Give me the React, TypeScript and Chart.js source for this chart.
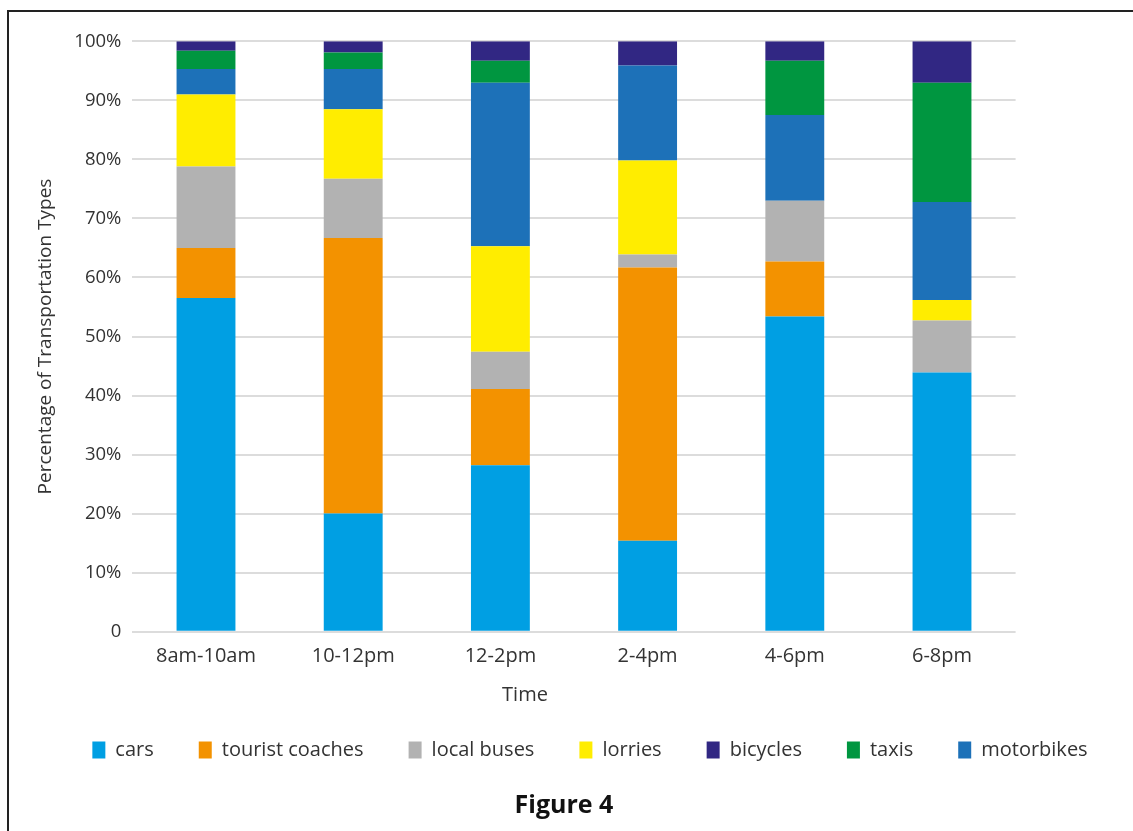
import React, { useEffect, useRef } from 'react';
import { Chart, registerables } from 'chart.js';

Chart.register(...registerables);

const categories = ['8am-10am', '10-12pm', '12-2pm', '2-4pm', '4-6pm', '6-8pm'];
const cars = [56.5, 20.0, 28.2, 15.4, 53.4, 43.9];
const touristCoaches = [8.5, 46.7, 12.9, 46.3, 9.3, 0];
const localBuses = [13.8, 10.0, 6.3, 2.2, 10.3, 8.8];
const lorries = [12.2, 11.8, 17.9, 15.9, 0, 3.5];
const motorbikes = [4.3, 6.8, 27.7, 16.1, 14.5, 16.6];
const taxis = [3.1, 2.8, 3.7, 0, 9.2, 20.2];
const bicycles = [1.6, 1.9, 3.3, 4.1, 3.3, 7.0];

const yTickLabels = ['0', '10%', '20%', '30%', '40%', '50%', '60%', '70%', '80%', '90%', '100%'];
const legendOrder = ['cars', 'tourist coaches', 'local buses', 'lorries', 'bicycles', 'taxis', 'motorbikes'];
const xTitle = 'Time';
const figureCaption = 'Figure 4';

const FONT = "'Open Sans', 'Noto Sans', sans-serif";
const TEXT = '#333333';

const captionPlugin = {
  id: 'captions',
  afterDraw(chart: any) {
    const ctx = chart.ctx;
    const xs = chart.scales.x;
    const mid = (xs.left + xs.right) / 2;
    ctx.save();
    ctx.textAlign = 'center';
    ctx.textBaseline = 'middle';
    ctx.fillStyle = TEXT;
    ctx.font = `20px ${FONT}`;
    ctx.fillText(xTitle, mid - 49, xs.bottom);
    ctx.fillStyle = '#111111';
    ctx.font = `bold 25px ${FONT}`;
    ctx.fillText(figureCaption, mid - 10, chart.height - 25);
    ctx.restore();
  },
};

export default function App() {
  const ref = useRef<HTMLCanvasElement | null>(null);

  useEffect(() => {
    if (!ref.current) return;
    const chart = new Chart(ref.current, {
      type: 'bar',
      data: {
        labels: categories,
        datasets: [
          { label: 'cars', data: cars, backgroundColor: '#009FE3' },
          { label: 'tourist coaches', data: touristCoaches, backgroundColor: '#F39200' },
          { label: 'local buses', data: localBuses, backgroundColor: '#B2B2B2' },
          { label: 'lorries', data: lorries, backgroundColor: '#FFED00' },
          { label: 'motorbikes', data: motorbikes, backgroundColor: '#1D71B8' },
          { label: 'taxis', data: taxis, backgroundColor: '#009640' },
          { label: 'bicycles', data: bicycles, backgroundColor: '#312783' },
        ],
      },
      options: {
        responsive: true,
        maintainAspectRatio: false,
        animation: false,
        datasets: {
          bar: { barPercentage: 0.4, categoryPercentage: 1.0, borderWidth: 0 },
        },
        layout: { padding: { left: 38, top: 29.3, right: 0, bottom: 61 } },
        scales: {
          x: {
            stacked: true,
            grid: { display: false },
            border: { display: false },
            ticks: { color: TEXT, font: { family: FONT, size: 20 }, padding: 4.3 },
            afterFit: (s: any) => { s.height = 63.3; },
          },
          y: {
            stacked: true,
            min: 0,
            max: 100,
            ticks: {
              stepSize: 10,
              color: TEXT,
              font: { family: FONT, size: 18.5 },
              padding: 11,
              callback: (_v: any, i: number) => yTickLabels[i],
            },
            grid: { color: '#dcdcdc', lineWidth: 2, drawTicks: false },
            border: { display: false },
            title: {
              display: true,
              text: 'Percentage of Transportation Types',
              color: TEXT,
              font: { family: FONT, size: 19 },
              padding: { top: -12.4, bottom: 0 },
            },
            afterFit: (s: any) => { s.width = 85.4; },
          },
          yRight: {
            type: 'linear',
            position: 'right',
            display: true,
            grid: { display: false },
            border: { display: false },
            ticks: { display: false },
            afterFit: (s: any) => { s.width = 117.4; },
          },
        },
        plugins: {
          tooltip: { enabled: false },
          legend: {
            position: 'bottom',
            labels: {
              boxWidth: 13,
              boxHeight: 17,
              padding: 45,
              color: TEXT,
              font: { family: FONT, size: 20 },
              sort: (a: any, b: any) => legendOrder.indexOf(a.text) - legendOrder.indexOf(b.text),
            },
          },
        },
      } as any,
      plugins: [captionPlugin],
    });
    return () => chart.destroy();
  }, []);

  return (
    <div
      style={{
        position: 'absolute',
        left: 7,
        top: 10,
        width: 1126,
        height: 821,
        boxSizing: 'border-box',
        borderTop: '2px solid #222',
        borderLeft: '2px solid #222',
        background: '#fff',
      }}
    >
      <div style={{ position: 'absolute', left: 0, top: 0, width: 1124, height: 819 }}>
        <canvas ref={ref} />
      </div>
    </div>
  );
}
